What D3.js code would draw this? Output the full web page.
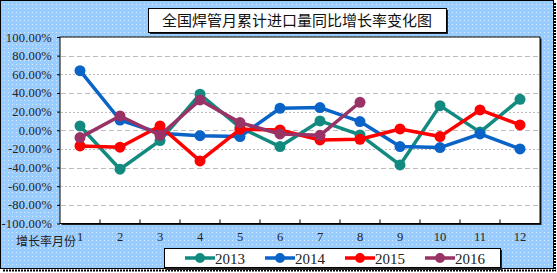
<!DOCTYPE html>
<html><head><meta charset="utf-8">
<script src="https://cdn.jsdelivr.net/npm/d3@7"></script>
<style>body{margin:0;background:#fff}svg{display:block}</style>
</head><body><svg id="c" width="557" height="273"></svg>
<script>
const months = ["1","2","3","4","5","6","7","8","9","10","11","12"];
const yTicks = [100,80,60,40,20,0,-20,-40,-60,-80,-100];
const years = ["2013","2014","2015","2016"];
const s2013 = [4.6,-41.8,-11.1,38.6,3,-17.5,10,-5,-37.2,26.4,-2,33.2];
const s2014 = [63.9,11,-3.2,-5.8,-6.8,23.6,24.3,9.3,-17.5,-18.6,-4,-20];
const s2015 = [-16.8,-18.2,4.6,-32.9,1,0.3,-10.4,-9.7,1.4,-6.8,21.8,5.7];
const s2016 = [-7.9,15.3,-5.4,32.5,8.2,-4,-5.4,30];
const colors = ["#138a80","#0a64c8","#ff0000","#993366"];
const title = "全国焊管月累计进口量同比增长率变化图";
const xTitle = "增长率月份";

const svg = d3.select("#c");
const defs = svg.append("defs");
const pat = defs.append("pattern").attr("id","dots").attr("width",4).attr("height",4).attr("patternUnits","userSpaceOnUse");
pat.append("rect").attr("width",4).attr("height",4).attr("fill","#99ccff");
pat.append("rect").attr("x",0).attr("y",0).attr("width",1).attr("height",1).attr("fill","#d8ecff");

svg.append("rect").attr("x",0.5).attr("y",0.5).attr("width",553).attr("height",268).attr("fill","url(#dots)").attr("stroke","#000");
svg.append("line").attr("x1",555).attr("x2",555).attr("y1",3).attr("y2",271).attr("stroke","#000").attr("stroke-width",2).attr("stroke-dasharray","2,1");
svg.append("line").attr("x1",3).attr("x2",556).attr("y1",270.5).attr("y2",270.5).attr("stroke","#000").attr("stroke-width",2).attr("stroke-dasharray","2,1");

const L=60,R=540,T=37,B=223.5;
const x = d3.scaleBand().domain(months).range([L,R]);
const y = d3.scaleLinear().domain([-100,100]).range([B,T]);

// plot bg
svg.append("rect").attr("x",L+1.5).attr("y",T+1.5).attr("width",R-L).attr("height",B-T).attr("fill","#222");
svg.append("rect").attr("x",L).attr("y",T).attr("width",R-L).attr("height",B-T).attr("fill","#fff").attr("stroke","#000").attr("stroke-width",1);

// grid
svg.append("g").selectAll("line").data(yTicks.filter(d=>d!==100&&d!==-100)).join("line")
  .attr("x1",L+1).attr("x2",R-1).attr("y1",d=>Math.round(y(d))+0.5).attr("y2",d=>Math.round(y(d))+0.5)
  .attr("stroke","#bdbdbd").attr("stroke-width",1).attr("stroke-dasharray",(d,i)=>i%2?"2,2":"5,3");

// y axis
const ya = d3.axisLeft(y).tickValues(yTicks).tickFormat(d=>d.toFixed(2)+"%").tickSize(3).tickPadding(5);
const gy = svg.append("g").attr("transform",`translate(${L},0)`).call(ya);
gy.select(".domain").remove();
gy.selectAll("text").attr("font-family","Liberation Serif").attr("font-size",12.5).attr("fill","#222").attr("letter-spacing","0.2px");
gy.selectAll("line").attr("stroke","#000").attr("transform","translate(0,0)");

// x axis ticks at boundaries
const bounds = d3.range(1,12).map(i=>L+i*x.step());
svg.append("g").selectAll("line").data(bounds).join("line")
  .attr("x1",d=>d).attr("x2",d=>d).attr("y1",B).attr("y2",B-4).attr("stroke","#000");
const xa = d3.axisBottom(x).tickSize(0).tickPadding(9);
const gx = svg.append("g").attr("transform",`translate(0,${B})`).call(xa);
gx.select(".domain").remove();
gx.selectAll("text").attr("font-family","Liberation Serif").attr("font-size",12.5).attr("fill","#222");

svg.append("text").attr("x",16).attr("y",246).attr("font-family","Noto Sans CJK SC").attr("font-size",12).attr("fill","#222").text(xTitle);

// series
const all = [s2013,s2014,s2015,s2016];
const line = d3.line().x((d,i)=>x(months[i])+x.bandwidth()/2).y(d=>y(d));
all.forEach((s,k)=>{
  const g = svg.append("g");
  g.append("path").attr("d",line(s)).attr("fill","none").attr("stroke",colors[k]).attr("stroke-width",3.5).attr("stroke-linejoin","round");
  g.selectAll("circle").data(s).join("circle")
    .attr("cx",(d,i)=>x(months[i])+x.bandwidth()/2).attr("cy",d=>y(d)).attr("r",5.5).attr("fill",colors[k]);
});

// title
svg.append("rect").attr("x",150).attr("y",10).attr("width",298).attr("height",24).attr("fill","#222");
svg.append("rect").attr("x",148.5).attr("y",8.5).attr("width",298).attr("height",24).attr("fill","#fff").attr("stroke","#000");
svg.append("text").attr("x",297).attr("y",26).attr("text-anchor","middle").attr("font-family","Noto Sans CJK SC").attr("font-size",15).attr("fill","#111").text(title);

// legend
svg.append("rect").attr("x",166).attr("y",250).attr("width",336).attr("height",20).attr("fill","#222");
svg.append("rect").attr("x",164.5).attr("y",248.5).attr("width",336).attr("height",19).attr("fill","#fff").attr("stroke","#000");
const lg = svg.append("g").selectAll("g").data(years).join("g").attr("transform",(d,i)=>`translate(${185+i*80},258)`);
lg.append("line").attr("x1",0).attr("x2",30).attr("stroke",(d,i)=>colors[i]).attr("stroke-width",3.5);
lg.append("circle").attr("cx",15).attr("r",5).attr("fill",(d,i)=>colors[i]);
lg.append("text").attr("x",30).attr("y",5.5).attr("font-family","Liberation Serif").attr("font-size",15).attr("fill","#222").text(d=>d);
</script></body></html>
